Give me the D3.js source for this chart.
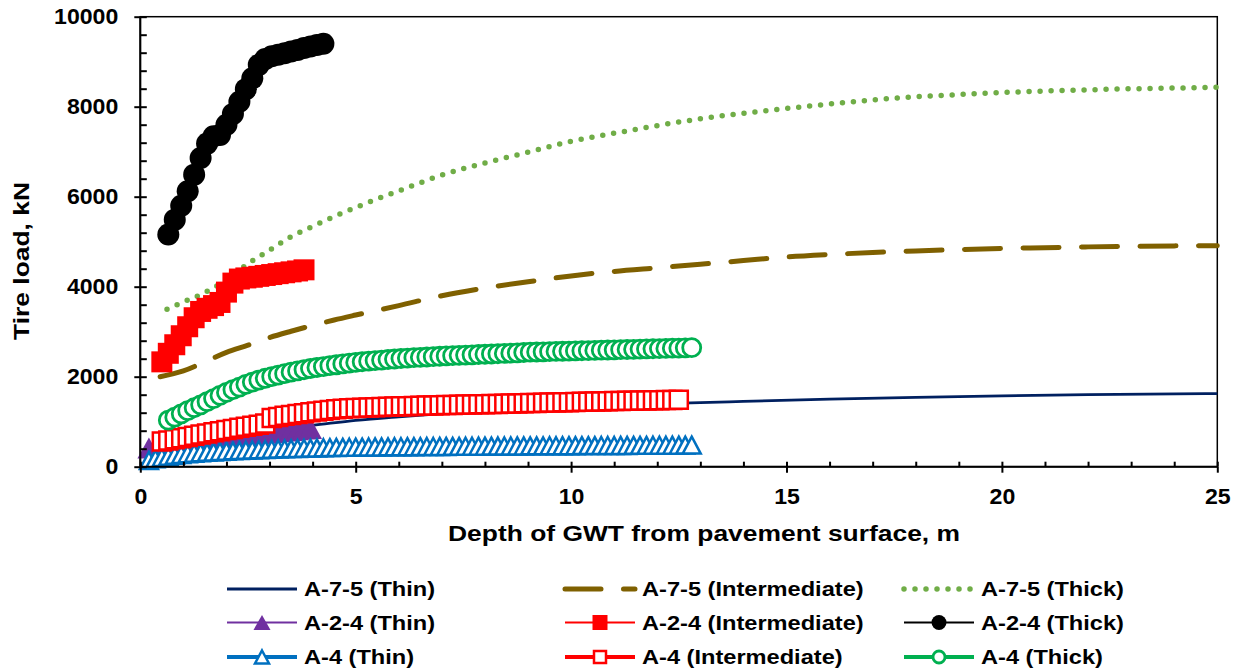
<!DOCTYPE html>
<html>
<head>
<meta charset="utf-8">
<script src="https://cdn.jsdelivr.net/npm/d3@7"></script>
<style>
  html, body { margin: 0; padding: 0; background: #fff; }
  svg { display: block; font-family: "Liberation Sans", Arial, sans-serif; font-weight: bold; }
</style>
</head>
<body>
<svg id="chart" width="1240" height="672"></svg>
<script>
// ---------------- data ----------------
const xTicks = [0, 5, 10, 15, 20, 25];
const yTicks = [0, 2000, 4000, 6000, 8000, 10000];

// A-7-5 soil: smooth curves
const depthA75Thin = [0.3, 0.5, 1, 1.5, 2, 3, 4, 5, 6, 7, 8, 9, 10, 11, 12, 13, 14, 16, 18, 20, 22, 25];
const loadA75Thin  = [330, 400, 520, 620, 700, 820, 920, 1030, 1110, 1180, 1240, 1290, 1330, 1365, 1395, 1425, 1450, 1500, 1540, 1575, 1600, 1625];

const depthA75Int = [0.46, 1, 1.5, 2, 2.5, 3, 3.5, 4, 4.5, 5, 6, 7, 8, 9, 10, 11, 12, 13, 14, 15, 16, 17, 18, 19, 20, 21, 22, 23, 24, 25];
const loadA75Int  = [2000, 2130, 2330, 2540, 2700, 2870, 3010, 3140, 3260, 3370, 3580, 3800, 3970, 4110, 4240, 4340, 4420, 4500, 4580, 4660, 4715, 4760, 4795, 4825, 4850, 4868, 4885, 4898, 4907, 4912];

const depthA75Thick = [0.62, 1, 1.5, 2, 2.5, 3, 3.5, 4, 4.5, 5, 5.5, 6, 7, 8, 9, 10, 11, 12, 13, 14, 15, 16, 17, 18, 19, 20, 21, 22, 23, 24, 25];
const loadA75Thick  = [3500, 3660, 3870, 4150, 4510, 4810, 5110, 5340, 5560, 5760, 5950, 6130, 6480, 6750, 6990, 7230, 7410, 7580, 7730, 7855, 7960, 8060, 8150, 8220, 8270, 8315, 8348, 8375, 8398, 8415, 8430];

// A-2-4 soil
const depthA24Thin = [0.20, 0.35, 0.50, 0.65, 0.80, 0.95, 1.10, 1.25, 1.40, 1.55, 1.70, 1.85, 2.00, 2.15, 2.30, 2.45, 2.60, 2.75, 2.90, 3.05, 3.20, 3.35, 3.50, 3.65, 3.80, 3.95];
const loadA24Thin  = [415, 437, 459, 480, 500, 520, 540, 558, 576, 594, 612, 630, 647, 664, 681, 698, 714, 730, 746, 762, 777, 792, 807, 822, 836, 850];

const depthA24Int = [0.50, 0.65, 0.80, 0.95, 1.10, 1.25, 1.40, 1.55, 1.70, 1.85, 2.00, 2.15, 2.30, 2.45, 2.60, 2.75, 2.90, 3.05, 3.20, 3.35, 3.50, 3.65, 3.80];
const loadA24Int  = [2330, 2520, 2710, 2910, 3110, 3310, 3450, 3520, 3580, 3650, 3880, 4080, 4170, 4195, 4210, 4230, 4250, 4270, 4290, 4310, 4330, 4350, 4375];

const depthA24Thick = [0.65, 0.80, 0.95, 1.10, 1.25, 1.40, 1.55, 1.70, 1.85, 2.00, 2.15, 2.30, 2.45, 2.60, 2.75, 2.90, 3.05, 3.20, 3.35, 3.50, 3.65, 3.80, 3.95, 4.10, 4.25];
const loadA24Thick  = [5160, 5490, 5800, 6120, 6490, 6860, 7180, 7345, 7370, 7600, 7840, 8110, 8390, 8630, 8930, 9060, 9120, 9155, 9190, 9225, 9262, 9305, 9340, 9370, 9400];

// A-4 soil: shared depth grid (null where a series has no value)
const depthA4 = [0.20, 0.35, 0.50, 0.65, 0.80, 0.95, 1.10, 1.25, 1.40, 1.55, 1.70, 1.85, 2.00, 2.15, 2.30, 2.45, 2.60, 2.75, 2.90, 3.05,
  3.20, 3.35, 3.50, 3.65, 3.80, 3.95, 4.10, 4.25, 4.40, 4.55, 4.70, 4.85, 5.00, 5.15, 5.30, 5.45, 5.60, 5.75, 5.90, 6.05,
  6.20, 6.35, 6.50, 6.65, 6.80, 6.95, 7.10, 7.25, 7.40, 7.55, 7.70, 7.85, 8.00, 8.15, 8.30, 8.45, 8.60, 8.75, 8.90, 9.05,
  9.20, 9.35, 9.50, 9.65, 9.80, 9.95, 10.10, 10.25, 10.40, 10.55, 10.70, 10.85, 11.00, 11.15, 11.30, 11.45, 11.60, 11.75, 11.90, 12.05,
  12.20, 12.35, 12.50, 12.65, 12.80];

const loadA4Thin = [140, 175, 205, 230, 255, 272, 287, 300, 310, 320, 328, 337, 345, 352, 359, 366, 372, 377, 383, 388,
  393, 397, 402, 406, 410, 414, 418, 422, 425, 428, 430, 432, 434, 436, 437, 439, 440, 441, 443, 444,
  445, 446, 447, 448, 449, 450, 451, 452, 453, 454, 455, 456, 457, 458, 459, 460, 460, 461, 462, 463,
  464, 464, 465, 466, 467, 467, 468, 469, 469, 470, 471, 471, 472, 473, 473, 474, 475, 475, 476, 477,
  477, 478, 479, 480, 481];

const loadA4Int = [null, null, 560, 585, 610, 635, 660, 690, 715, 740, 765, 790, 815, 840, 865, 890, 910, 935, 960, 1080,
  1105, 1130, 1150, 1170, 1190, 1210, 1228, 1245, 1260, 1275, 1288, 1298, 1306, 1312, 1318, 1323, 1328, 1333, 1338, 1342,
  1346, 1350, 1354, 1358, 1362, 1366, 1370, 1373, 1377, 1380, 1384, 1387, 1390, 1393, 1396, 1399, 1402, 1405, 1408, 1413,
  1417, 1420, 1424, 1427, 1431, 1434, 1438, 1441, 1444, 1448, 1451, 1454, 1458, 1461, 1464, 1467, 1470, 1473, 1476, 1479,
  1482, 1485, 1488, null, null];

const loadA4Thick = [null, null, null, 1035, 1100, 1175, 1245, 1310, 1375, 1445, 1515, 1585, 1650, 1712, 1770, 1830, 1880, 1925, 1965, 2000,
  2035, 2068, 2100, 2128, 2155, 2182, 2205, 2225, 2245, 2265, 2283, 2300, 2318, 2332, 2345, 2358, 2370, 2382, 2393, 2404,
  2413, 2422, 2430, 2438, 2446, 2454, 2461, 2468, 2475, 2481, 2487, 2493, 2499, 2505, 2510, 2517, 2523, 2530, 2538, 2545,
  2549, 2553, 2557, 2561, 2565, 2569, 2573, 2577, 2581, 2585, 2589, 2593, 2597, 2601, 2605, 2609, 2613, 2617, 2621, 2625,
  2629, 2633, 2637, 2641, 2645];

const seriesNames = [
  "A-7-5 (Thin)", "A-7-5 (Intermediate)", "A-7-5 (Thick)",
  "A-2-4 (Thin)", "A-2-4 (Intermediate)", "A-2-4 (Thick)",
  "A-4 (Thin)", "A-4 (Intermediate)", "A-4 (Thick)"
];

// ---------------- styles per series ----------------
const styles = [
  { color: "#002060", width: 2.8, smooth: true },
  { color: "#7F6000", width: 5, dash: "36,22.5", cap: "round", smooth: true },
  { color: "#70AD47", width: 5.5, dash: "0,11", cap: "round", smooth: true },
  { color: "#7030A0", width: 2, marker: "tri", fill: "#7030A0", stroke: "none", size: [23, 21], lsize: [17, 15] },
  { color: "#FF0000", width: 2, marker: "sq", fill: "#FF0000", stroke: "none", size: [21, 21], lsize: [15, 15] },
  { color: "#000000", width: 2, marker: "circle", fill: "#000000", stroke: "none", size: [22, 22], lsize: [15, 15] },
  { color: "#0070C0", width: 4, marker: "tri", fill: "#fff", stroke: "#0070C0", sw: 2.5, size: [18, 17], lsize: [14, 13] },
  { color: "#FF0000", width: 4, marker: "sq", fill: "#fff", stroke: "#FF0000", sw: 2.5, size: [18, 18], lsize: [12, 12] },
  { color: "#00B050", width: 4, marker: "circle", fill: "#fff", stroke: "#00B050", sw: 2.8, size: [18, 18], lsize: [12, 12] }
];

const seriesData = [
  [depthA75Thin, loadA75Thin], [depthA75Int, loadA75Int], [depthA75Thick, loadA75Thick],
  [depthA24Thin, loadA24Thin], [depthA24Int, loadA24Int], [depthA24Thick, loadA24Thick],
  [depthA4, loadA4Thin], [depthA4, loadA4Int], [depthA4, loadA4Thick]
].map(([d, l]) => d3.zip(d, l).filter(p => p[1] != null));

// ---------------- layout ----------------
const svg = d3.select("#chart");
const x = d3.scaleLinear().domain([0, 25]).range([140.3, 1217.3]);
const y = d3.scaleLinear().domain([0, 10000]).range([466.7, 16.7]);

function widen(sel, f) {
  sel.each(function () {
    const w = this.getComputedTextLength();
    d3.select(this).attr("textLength", w * f).attr("lengthAdjust", "spacingAndGlyphs");
  });
}

function markerPath(type, w, h) {
  if (type === "tri") return `M0,${-h / 2}L${w / 2},${h / 2}L${-w / 2},${h / 2}Z`;
  if (type === "sq") return `M${-w / 2},${-h / 2}h${w}v${h}h${-w}Z`;
  const r = w / 2;
  return `M${r},0A${r},${r} 0 1,1 ${-r},0A${r},${r} 0 1,1 ${r},0Z`;
}

// plot frame (top and right sides)
svg.append("rect")
  .attr("x", x(0)).attr("y", y(10000))
  .attr("width", x(25) - x(0)).attr("height", y(0) - y(10000))
  .attr("fill", "none").attr("stroke", "#000").attr("stroke-width", 1.5);

// ---------------- series ----------------
const plot = svg.append("g");
seriesData.forEach((pts, i) => {
  const st = styles[i];
  const line = d3.line().x(d => x(d[0])).y(d => y(d[1]))
    .curve(st.smooth ? d3.curveMonotoneX : d3.curveLinear);
  plot.append("path")
    .attr("d", line(pts))
    .attr("fill", "none")
    .attr("stroke", st.color)
    .attr("stroke-width", st.width)
    .attr("stroke-linecap", st.cap || "butt")
    .attr("stroke-linejoin", "round")
    .attr("stroke-dasharray", st.dash || null);
  if (st.marker) {
    plot.append("g").selectAll("path").data(pts).join("path")
      .attr("transform", d => `translate(${x(d[0])},${y(d[1])})`)
      .attr("d", markerPath(st.marker, st.size[0], st.size[1]))
      .attr("fill", st.fill)
      .attr("stroke", st.stroke)
      .attr("stroke-width", st.sw || 0);
  }
});

// ---------------- axes ----------------
const gx = svg.append("g").attr("transform", `translate(0,${y(0)})`);
gx.call(d3.axisBottom(x).tickValues(xTicks).tickSize(6).tickPadding(16).tickFormat(d3.format("d")));
gx.append("g").call(d3.axisTop(x).tickValues(d3.range(0, 26, 1)).tickSize(5).tickFormat(""));
gx.selectAll(".domain").remove();
gx.selectAll("line").attr("stroke", "#000").attr("stroke-width", 2);
gx.selectAll("text").attr("font-size", 22).attr("font-weight", "bold").attr("fill", "#000")
  .attr("font-family", '"Liberation Sans", Arial, sans-serif').call(widen, 1.05);

const gy = svg.append("g").attr("transform", `translate(${x(0)},0)`);
gy.call(d3.axisLeft(y).tickValues(yTicks).tickSize(6).tickPadding(16).tickFormat(d3.format("d")));
gy.append("g").call(d3.axisRight(y).tickValues(d3.range(0, 10001, 400)).tickSize(6.5).tickFormat(""));
gy.selectAll(".domain").remove();
gy.selectAll("line").attr("stroke", "#000").attr("stroke-width", 2);
gy.selectAll("text").attr("font-size", 22).attr("font-weight", "bold").attr("fill", "#000")
  .attr("font-family", '"Liberation Sans", Arial, sans-serif').call(widen, 1.05);

// axis lines
svg.append("line").attr("x1", x(0)).attr("x2", x(25)).attr("y1", y(0)).attr("y2", y(0))
  .attr("stroke", "#000").attr("stroke-width", 2);
svg.append("line").attr("x1", x(0)).attr("x2", x(0)).attr("y1", y(0)).attr("y2", y(10000))
  .attr("stroke", "#000").attr("stroke-width", 2);

// axis titles
svg.append("text").attr("x", 704).attr("y", 541).attr("text-anchor", "middle")
  .attr("font-size", 22).attr("fill", "#000")
  .text("Depth of GWT from pavement surface, m").call(widen, 1.2);
svg.append("text").attr("transform", "translate(29,261) rotate(-90)").attr("text-anchor", "middle")
  .attr("font-size", 22).attr("fill", "#000")
  .text("Tire load, kN").call(widen, 1.2);

// ---------------- legend ----------------
const colX = [262, 600, 939];
const rowY = [589, 622.5, 657];
const legend = svg.append("g");
seriesNames.forEach((name, i) => {
  const st = styles[i];
  const col = i % 3, row = Math.floor(i / 3);
  // legend columns follow thickness, rows follow soil type
  const cx = colX[col], cy = rowY[row];
  const g = legend.append("g");
  g.append("line")
    .attr("x1", cx - 35).attr("x2", cx + 35).attr("y1", cy).attr("y2", cy)
    .attr("stroke", st.color).attr("stroke-width", st.width)
    .attr("stroke-linecap", st.cap || "butt")
    .attr("stroke-dasharray", st.dash || null);
  if (st.marker) {
    g.append("path")
      .attr("transform", `translate(${cx},${cy})`)
      .attr("d", markerPath(st.marker, st.lsize[0], st.lsize[1]))
      .attr("fill", st.fill).attr("stroke", st.stroke).attr("stroke-width", st.sw || 0);
  }
  g.append("text").attr("x", cx + 42).attr("y", cy + 7.3)
    .attr("font-size", 20).attr("fill", "#000")
    .text(name).call(widen, 1.18);
});
</script>
</body>
</html>
